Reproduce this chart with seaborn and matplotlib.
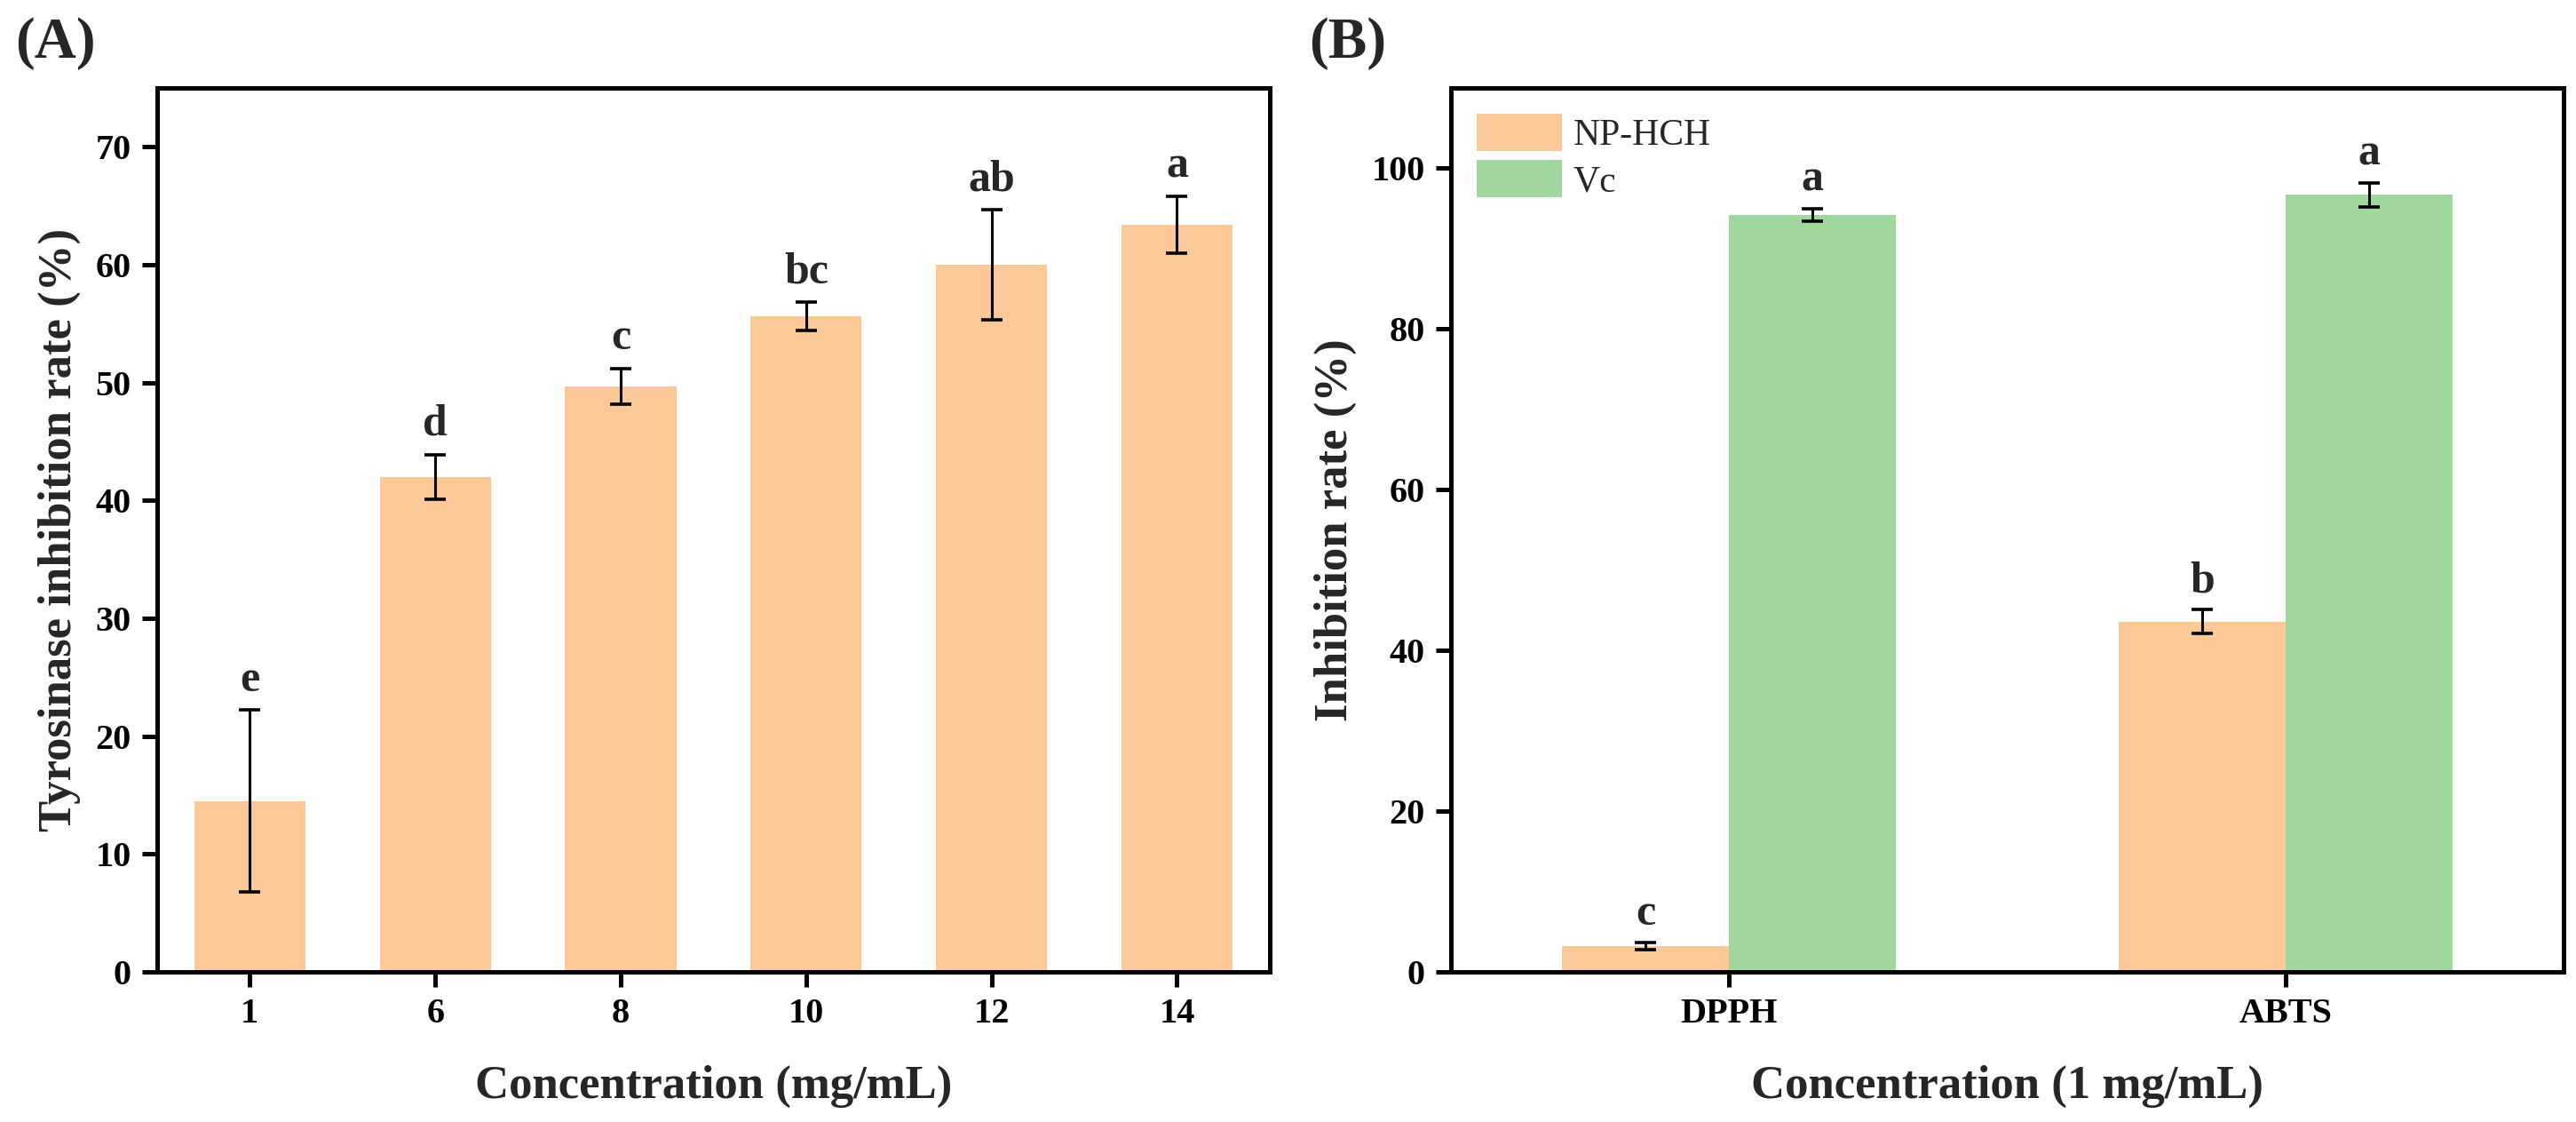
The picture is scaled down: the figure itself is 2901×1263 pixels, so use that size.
import numpy as np
import pandas as pd
import matplotlib
matplotlib.use("Agg")
import matplotlib.pyplot as plt
import seaborn as sns

# Panel A data
conc_labels = ["1", "6", "8", "10", "12", "14"]
tyr_mean = [14.5, 42.0, 49.7, 55.6, 60.0, 63.4]
tyr_err = [7.7, 1.9, 1.5, 1.2, 4.7, 2.4]
tyr_letters = ["e", "d", "c", "bc", "ab", "a"]

# Panel B data
assays = ["DPPH", "ABTS"]
groups = ["NP-HCH", "Vc"]
np_hch_mean = [3.2, 43.6]
np_hch_err = [0.4, 1.5]
vc_mean = [94.2, 96.7]
vc_err = [0.8, 1.5]
np_hch_letters = ["c", "b"]
vc_letters = ["a", "a"]

orange = "#FBC898"
green = "#9FD79D"

sns.set_style("ticks")
plt.rcParams["font.family"] = ["Liberation Serif", "DejaVu Serif"]
plt.rcParams["font.weight"] = "bold"

fig = plt.figure(figsize=(29.01, 12.63), dpi=100)
axA = fig.add_axes([0.0610, 0.1338, 0.4319, 0.7878])
axB = fig.add_axes([0.5633, 0.1338, 0.4319, 0.7878])

tick_fs = 29
label_fs = 38
letter_fs = 36


def style_axis(ax):
    for s in ax.spines.values():
        s.set_linewidth(3.6)
        s.set_color("black")
    ax.tick_params(axis="both", direction="out", length=12, width=3.6,
                   labelsize=tick_fs, pad=9, colors="black")
    for lab in ax.get_xticklabels() + ax.get_yticklabels():
        lab.set_fontweight("bold")


# ---- Panel A ----
dfA = pd.DataFrame({"conc": conc_labels, "rate": tyr_mean})
sns.barplot(data=dfA, x="conc", y="rate", color=orange, saturation=1,
            width=0.6, errorbar=None, linewidth=0, ax=axA)
bars = axA.containers[0]
xs = [b.get_x() + b.get_width() / 2 for b in bars]
hs = [b.get_height() for b in bars]
axA.errorbar(xs, hs, yerr=tyr_err, fmt="none", ecolor="black",
             elinewidth=2.2, capsize=8.5, capthick=2.6)
for x, h, e, t in zip(xs, hs, tyr_err, tyr_letters):
    axA.text(x, h + e + 0.8, t, ha="center", va="bottom",
             fontsize=letter_fs, fontweight="bold")
axA.set_xlim(-0.5, 5.5)
axA.set_ylim(0, 75)
axA.set_yticks(np.arange(0, 71, 10))
axA.set_xlabel("Concentration (mg/mL)", fontsize=label_fs, fontweight="bold", labelpad=28)
axA.set_ylabel("Tyrosinase inhibition rate (%)", fontsize=label_fs, fontweight="bold", labelpad=12)
style_axis(axA)

# ---- Panel B ----
dfB = pd.DataFrame({
    "assay": assays * 2,
    "group": [groups[0]] * 2 + [groups[1]] * 2,
    "rate": np_hch_mean + vc_mean,
})
sns.barplot(data=dfB, x="assay", y="rate", hue="group", hue_order=groups,
            palette=[orange, green], saturation=1, width=0.6, errorbar=None,
            linewidth=0, ax=axB)
for cont, errs, lets in zip(axB.containers, [np_hch_err, vc_err],
                            [np_hch_letters, vc_letters]):
    xs = [b.get_x() + b.get_width() / 2 for b in cont]
    hs = [b.get_height() for b in cont]
    axB.errorbar(xs, hs, yerr=errs, fmt="none", ecolor="black",
                 elinewidth=2.2, capsize=8.5, capthick=2.6)
    for x, h, e, t in zip(xs, hs, errs, lets):
        axB.text(x, h + e + 1.0, t, ha="center", va="bottom",
                 fontsize=letter_fs, fontweight="bold")
axB.set_xlim(-0.5, 1.5)
axB.set_ylim(0, 110)
axB.set_yticks(np.arange(0, 101, 20))
axB.set_xlabel("Concentration (1 mg/mL)", fontsize=label_fs, fontweight="bold", labelpad=28)
axB.set_ylabel("Inhibition rate (%)", fontsize=label_fs, fontweight="bold", labelpad=12)
style_axis(axB)
leg = axB.legend(loc="upper left", frameon=False,
                 prop={"weight": "normal", "size": 30},
                 handlelength=2.3, handleheight=1.15, handletextpad=0.3,
                 labelspacing=0.2, borderaxespad=0.3, borderpad=0.4)

fig.text(0.006, 0.985, "(A)", fontsize=47, fontweight="bold", ha="left", va="top")
fig.text(0.508, 0.985, "(B)", fontsize=47, fontweight="bold", ha="left", va="top")

fig.savefig("out.png", dpi=100)
